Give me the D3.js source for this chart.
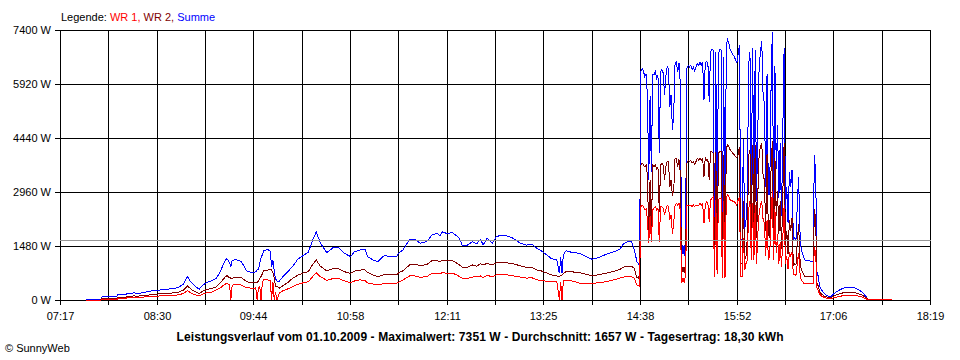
<!DOCTYPE html>
<html><head><meta charset="utf-8">
<script src="https://cdn.jsdelivr.net/npm/d3@7"></script>
<style>body{margin:0;background:#fff}svg{display:block}text{font-family:"Liberation Sans",Arial,sans-serif}</style>
</head><body><svg id="c" width="960" height="360"></svg>
<script>
const xTickLabels = ["07:17","08:30","09:44","10:58","12:11","13:25","14:38","15:52","17:06","18:19"];
const yTicks = [0,1480,2960,4440,5920,7400];
const legendItems = [["Legende: ","#000000"],["WR 1, ","#ff0000"],["WR 2, ","#800000"],["Summe","#0000ff"]];
const average = 1657;
const titleText = "Leistungsverlauf vom 01.10.2009 - Maximalwert: 7351 W - Durchschnitt: 1657 W - Tagesertrag: 18,30 kWh";
const creditText = "\u00a9 SunnyWeb";

const times = ["07:37","07:48","07:49","08:00","08:01","08:07","08:08","08:12","08:13","08:15","08:20","08:25","08:29","08:37","08:42","08:47","08:51","08:54","08:56","08:58",
"09:01","09:03","09:06","09:09","09:13","09:16","09:19","09:21","09:23","09:24","09:26","09:27","09:28","09:31","09:35","09:39","09:44","09:46","09:47","09:48",
"09:49","09:50","09:51","09:52","09:55","09:57","09:58","09:59","10:00","10:01","10:02","10:04","10:07","10:10","10:14","10:18","10:22","10:26","10:29","10:32",
"10:35","10:40","10:45","10:49","10:53","10:58","11:01","11:05","11:09","11:11","11:15","11:19","11:24","11:28","11:33","11:35","11:38","11:43","11:47","11:51",
"11:56","12:00","12:04","12:06","12:08","12:12","12:15","12:19","12:21","12:23","12:27","12:31","12:34","12:37","12:39","12:42","12:46","12:49","12:53","12:57",
"13:02","13:07","13:12","13:16","13:20","13:24","13:28","13:31","13:35","13:37","13:38","13:39","13:40","13:42","13:47","13:52","13:58","14:02","14:08","14:13",
"14:17","14:23","14:26","14:29","14:32","14:34","14:36","14:37","14:38",
"14:39","14:40","14:41","14:42","14:43","14:44","14:45","14:46","14:47","14:48","14:49","14:50","14:51","14:52","14:53","14:54","14:55","14:56","14:57","14:58","14:59",
"15:00","15:01","15:02","15:03","15:04","15:05","15:06","15:07","15:08","15:09","15:10","15:11","15:12","15:13","15:14","15:15","15:16","15:17","15:18","15:19",
"15:20","15:21","15:22","15:23","15:24","15:25","15:26","15:27","15:28","15:29","15:30","15:31","15:32","15:33","15:34","15:35","15:36","15:37","15:38","15:39",
"15:40","15:41","15:42","15:43","15:44","15:45","15:46","15:47","15:48","15:49","15:50","15:51","15:52","15:53","15:54","15:55","15:56","15:57","15:58","15:59",
"16:00","16:01","16:02","16:03","16:04","16:05","16:06","16:07","16:08","16:09","16:10","16:11","16:12","16:13","16:14","16:15","16:16","16:17","16:18","16:19",
"16:20","16:21","16:22","16:23","16:24","16:25","16:26","16:27","16:28","16:29","16:30","16:31","16:32","16:33","16:34","16:35","16:36","16:37","16:38","16:39",
"16:40","16:41","16:42","16:43","16:44","16:50","16:51","16:52","16:53","16:54","16:55","16:56","16:57","16:58","16:59","17:00","17:01","17:02","17:03","17:04",
"17:05","17:06","17:08","17:11","17:14","17:17","17:21","17:24","17:27","17:30","17:32","17:50"];

const wr1 = [0,0,20,20,30,30,70,70,80,70,80,95,105,115,125,140,180,255,210,165,
130,115,170,200,220,275,330,390,440,450,410,0,410,420,410,340,320,330,0,340,
380,0,480,550,550,540,0,500,0,230,0,200,260,300,365,430,470,500,630,750,
640,540,590,590,530,475,520,550,540,470,440,410,460,440,455,500,550,660,660,620,
640,730,740,720,750,730,740,690,640,600,590,630,640,660,610,680,630,685,700,690,
660,630,600,610,550,530,510,500,500,0,500,0,520,550,520,465,460,455,480,500,
540,600,630,640,640,600,410,385,380,
2560,2600,2560,2470,2500,2200,1550,2300,1600,2470,2520,2560,2470,2520,1600,2560,2560,2520,2330,2470,2600,
2560,2200,2330,1800,2100,2600,2650,2600,2650,2470,460,600,460,700,2600,2600,2600,2600,2560,2600,
2560,2600,2600,2600,2650,2600,2650,2100,2600,2700,2650,2150,2740,2790,2830,640,2740,700,2740,2790,
2790,600,2700,600,2830,2880,2830,2740,2740,2700,2700,2650,2600,2740,2800,640,650,1700,820,1000,
1100,2500,2700,1100,2650,1100,2600,1000,1800,2400,2600,2700,2200,2100,1200,2200,1100,1200,2200,3000,
1100,2500,1300,1800,1000,1600,900,1700,2600,1000,1200,850,1300,1200,1300,700,700,680,1000,1300,
750,550,500,460,440,440,1460,1300,330,260,160,120,100,80,60,55,45,40,35,35,
50,60,80,105,125,135,135,110,85,40,5,5];

const wr2 = [0,0,45,50,70,70,105,105,115,105,115,140,160,175,190,210,275,385,320,265,
210,180,250,290,320,365,470,560,640,670,610,600,600,620,620,500,475,480,490,500,
600,650,720,800,820,840,820,760,600,365,370,330,400,470,595,680,740,775,960,1095,
930,800,860,850,780,730,790,820,830,760,690,640,700,690,685,760,800,960,980,940,
970,1075,1080,1040,1095,1080,1090,1010,960,900,895,960,930,990,960,1005,960,1020,1040,1020,
990,940,895,900,820,790,730,690,660,650,670,680,730,775,770,750,700,660,700,740,
770,840,900,930,920,870,600,630,560,
3700,3750,3700,3650,3700,3400,1740,3300,1900,3700,3650,3700,3600,3650,2420,3700,3750,3700,3300,3650,3790,
3790,3100,3300,2860,3000,3880,3880,3650,3850,3470,700,900,750,1000,3750,3830,3790,3830,3750,3790,
3720,3800,3880,3830,3880,3830,3880,3380,3900,3830,3840,3280,4070,4070,4020,1000,4060,1000,4020,4070,
4060,820,3970,860,4160,4250,4200,4110,4065,4020,3980,3930,3900,3990,4190,1000,1010,2700,1100,1200,
1700,3950,4100,1700,4250,1800,4250,1700,2900,4000,4200,4300,3400,3300,1900,4000,1800,1700,3500,4351,
1500,3900,2300,3000,1800,2700,1400,2900,4300,1500,1900,1250,2200,1900,2250,950,1000,960,1600,2080,
1150,820,780,700,640,630,2500,2200,450,380,230,180,150,120,100,85,75,60,55,60,
95,110,145,180,205,210,210,180,140,70,15,15];

const summe = [20,20,90,90,140,140,175,180,215,175,200,240,260,285,310,340,440,640,520,440,
340,300,420,480,540,590,780,950,1100,1130,1030,910,1080,1110,1050,800,740,780,820,850,
1000,1150,1250,1350,1390,1330,910,1100,800,580,520,520,660,760,920,1120,1220,1310,1620,1870,
1570,1300,1440,1440,1290,1190,1320,1370,1390,1190,1100,1050,1230,1180,1185,1300,1370,1665,1660,1555,
1600,1780,1830,1760,1870,1810,1860,1750,1690,1505,1505,1600,1540,1665,1510,1690,1560,1735,1780,1755,
1690,1560,1505,1530,1410,1330,1220,1130,1100,730,1180,740,1240,1350,1300,1280,1180,1115,1180,1260,
1300,1390,1550,1600,1600,1380,1050,1000,940,
6260,6350,6260,6120,6200,5600,3290,5600,3500,6170,6170,6260,6070,6170,4020,6260,6310,6220,5630,6120,6390,
6350,5300,5630,4660,5100,6480,6530,6250,6500,5940,1160,1500,1210,1700,6350,6430,6390,6430,6310,6390,
6280,6400,6480,6430,6530,6430,6530,5480,6500,6530,6490,5430,6810,6860,6850,1640,6800,1700,6760,6860,
6850,1420,6670,1460,6990,7130,7030,6850,6800,6720,6680,6580,6500,6730,6990,1640,1660,4400,1920,2200,
2800,6450,6800,2800,6900,2900,6850,2700,4700,6400,6800,7100,5600,5400,3100,6200,2900,2900,5700,7351,
2600,6400,3600,4800,2800,4300,2300,4600,6900,2500,3100,2100,3500,3100,3550,1650,1700,1640,2600,3380,
1900,1370,1280,1160,1080,1060,3960,3500,780,640,390,300,250,200,160,140,120,100,90,100,
150,180,228,292,338,347,347,292,228,110,20,20];

const toMin = s => { const p = s.split(":"); return +p[0]*60 + +p[1]; };
const svg = d3.select("#c");
const x = d3.scaleLinear().domain([toMin(xTickLabels[0]), toMin(xTickLabels[xTickLabels.length-1])]).range([60, 930]);
const y = d3.scaleLinear().domain([0, 7400]).range([300, 30]);
const px = v => Math.round(v) + 0.5;

// vertical grid (18 intervals, labelled every second line)
const nInt = (xTickLabels.length - 1) * 2;
const d0 = x.domain()[0], d1 = x.domain()[1];
const gridT = d3.range(nInt + 1).map(k => d0 + k * (d1 - d0) / nInt);
const g = svg.append("g").attr("shape-rendering", "crispEdges");
g.selectAll("line.v").data(gridT).join("line")
  .attr("x1", d => px(x(d))).attr("x2", d => px(x(d)))
  .attr("y1", y(7400)).attr("y2", y(0) + 5)
  .attr("stroke", "#000").attr("stroke-width", 1);
g.selectAll("line.h").data(yTicks).join("line")
  .attr("x1", 55).attr("x2", px(x(d1)) + 0.5)
  .attr("y1", d => px(y(d))).attr("y2", d => px(y(d)))
  .attr("stroke", "#000").attr("stroke-width", 1);

// y labels
svg.selectAll("text.yl").data(yTicks).join("text")
  .attr("x", 51).attr("y", d => Math.round(y(d)) + 4)
  .attr("text-anchor", "end").attr("font-size", 11).attr("fill", "#000")
  .text(d => d + " W");
// x labels
svg.selectAll("text.xl").data(xTickLabels).join("text")
  .attr("x", (d, i) => px(x(gridT[i * 2]))).attr("y", 320)
  .attr("text-anchor", "middle").attr("font-size", 11).attr("fill", "#000")
  .text(d => d);

// data
const tm = times.map(toMin);
const series = [[summe, "#0000ff"], [wr2, "#800000"], [wr1, "#ff0000"]];
const line = d3.line().x(d => x(d[0])).y(d => y(d[1]));
series.forEach(([vals, col]) => {
  svg.append("path").datum(tm.map((t, i) => [t, vals[i]]))
    .attr("d", line).attr("fill", "none").attr("stroke", col)
    .attr("stroke-width", 1).attr("shape-rendering", "crispEdges");
});

// average line
svg.append("line").attr("shape-rendering", "crispEdges")
  .attr("x1", 60).attr("x2", px(x(d1)))
  .attr("y1", px(y(average))).attr("y2", px(y(average)))
  .attr("stroke", "#969696").attr("stroke-width", 1);

// legend
const lg = svg.append("text").attr("x", 61).attr("y", 21).attr("font-size", 11);
legendItems.forEach(([t, c]) => lg.append("tspan").attr("fill", c).text(t));

svg.append("text").attr("x", 480).attr("y", 341).attr("text-anchor", "middle")
  .attr("font-size", 12).attr("font-weight", "bold")
  .attr("textLength", 607).attr("lengthAdjust", "spacing").text(titleText);
svg.append("text").attr("x", 5).attr("y", 352).attr("font-size", 11).text(creditText);
</script></body></html>
